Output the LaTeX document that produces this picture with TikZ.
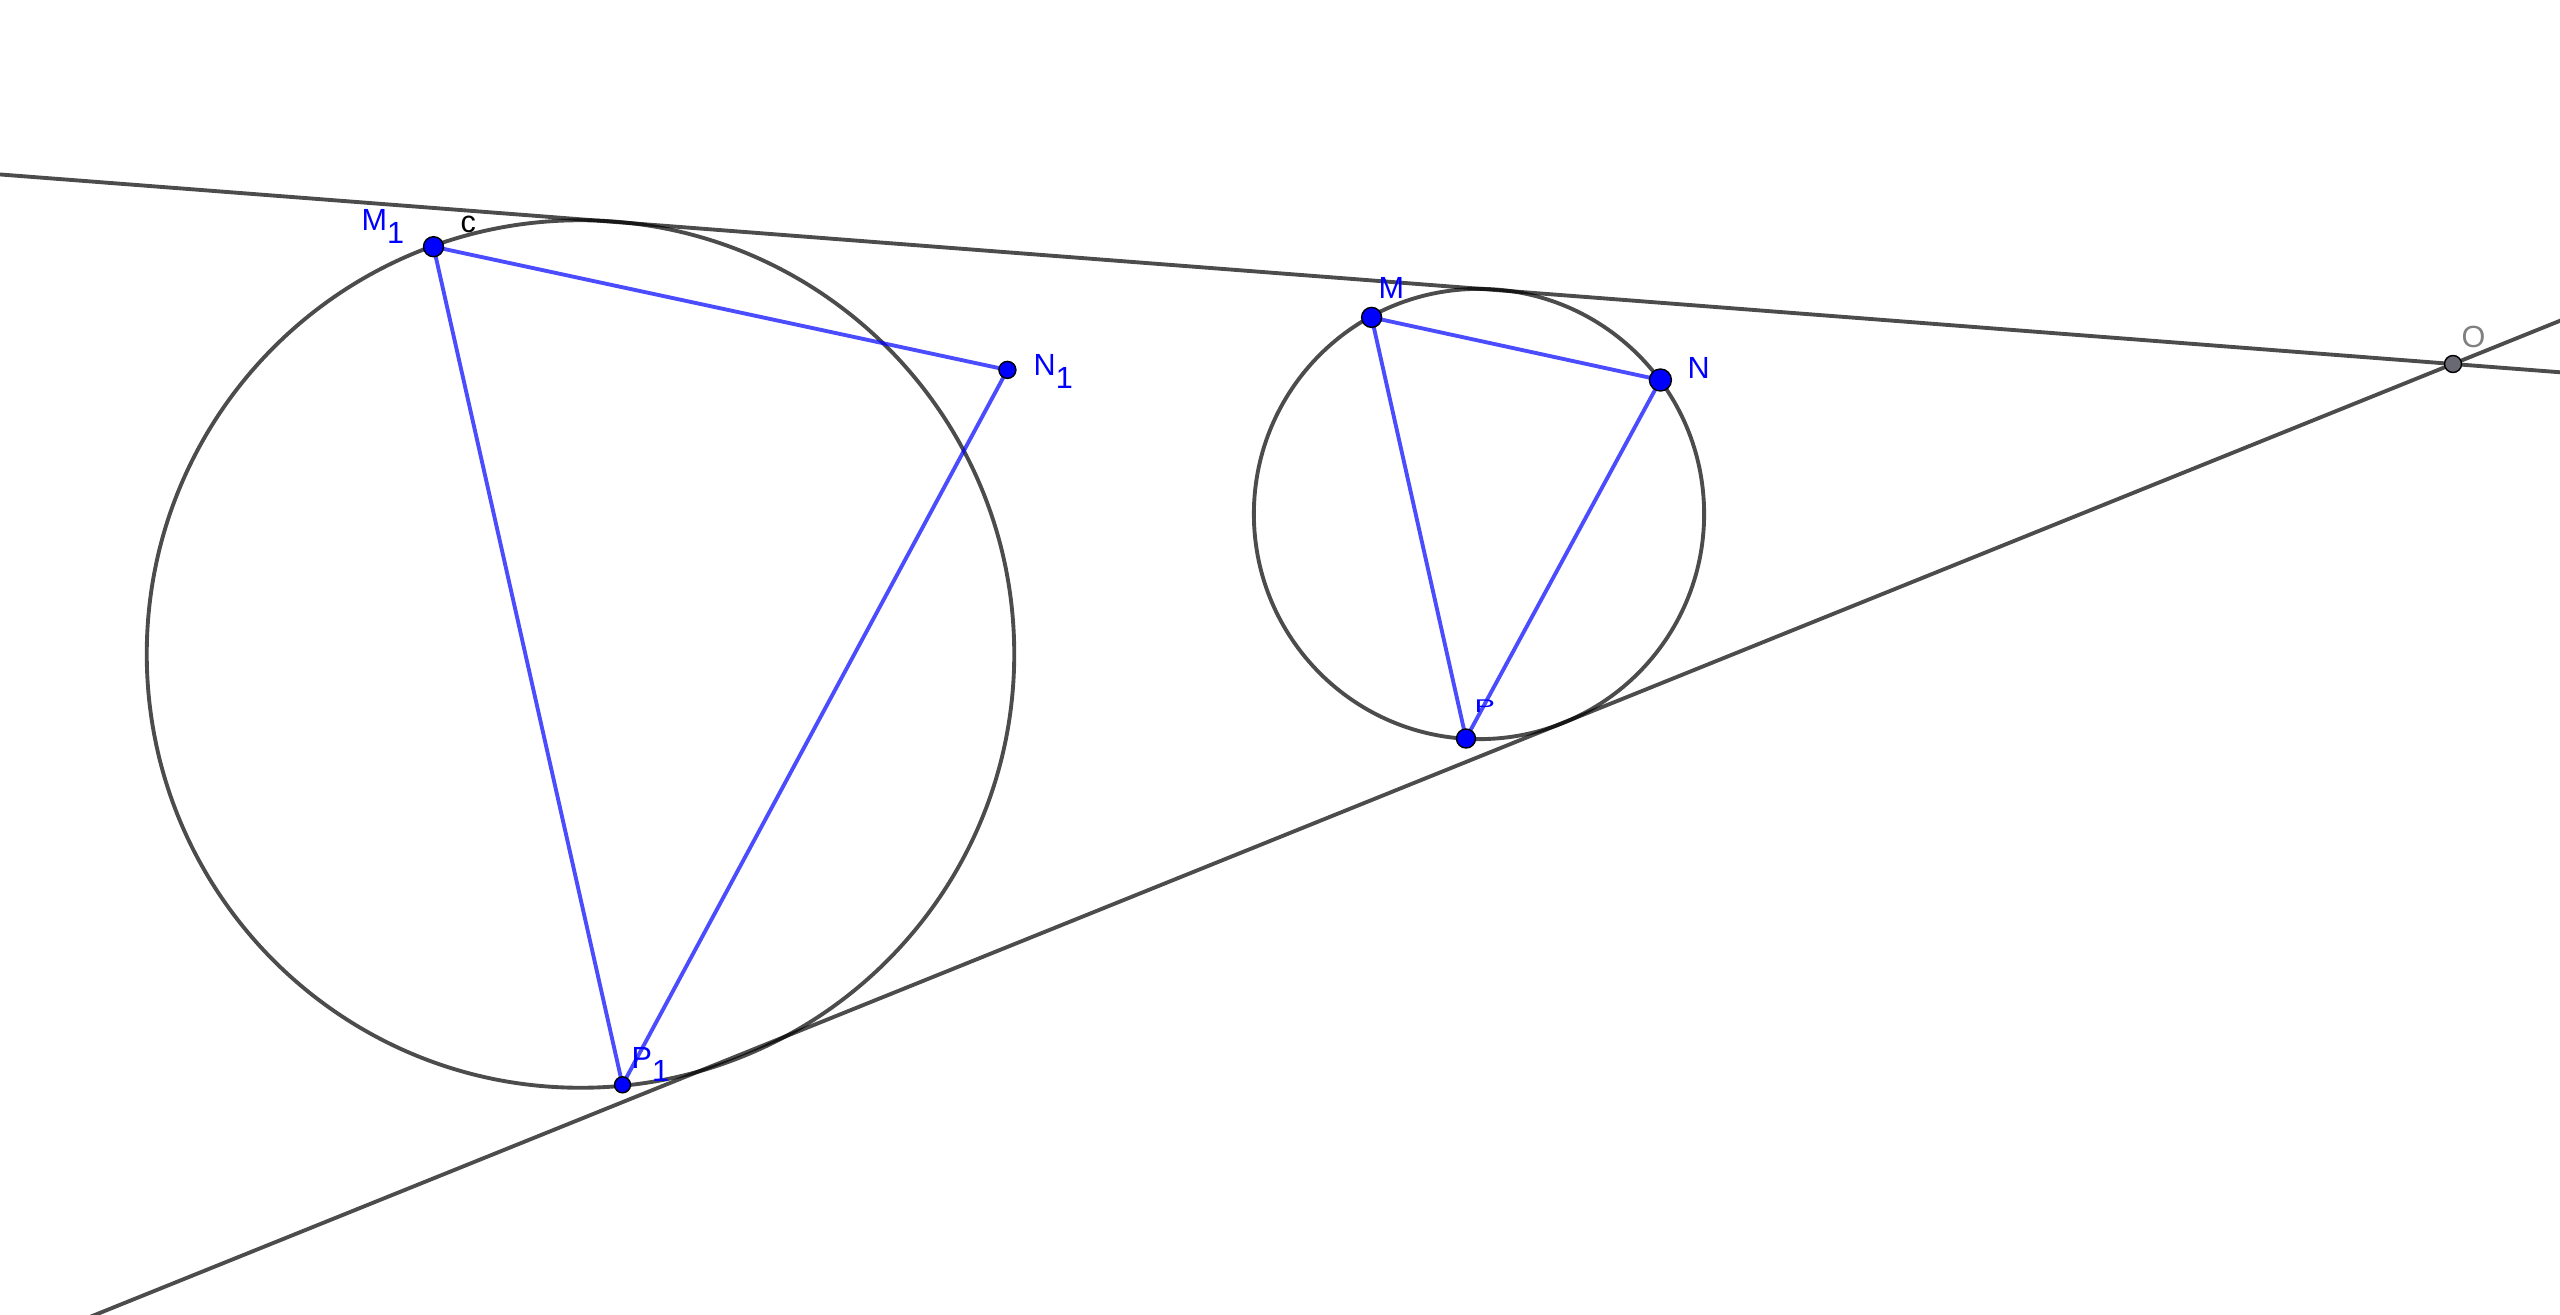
\documentclass[tikz,border=0pt]{standalone}
\usepackage{fontspec}
\setmainfont{Liberation Sans}
\usepackage{graphicx}
\definecolor{ptblue}{RGB}{0,0,255}
\definecolor{ogray}{RGB}{105,105,115}
\definecolor{lblgray}{RGB}{128,128,128}
\newcommand\mysub[1]{\raisebox{-3.8pt}{#1}}
\tikzset{
  geoline/.style={draw=black, draw opacity=0.7, line width=1.1pt},
  seg/.style={draw=blue, draw opacity=0.7, line width=1.1pt},
  bluept/.style={circle, fill=ptblue, draw=black, line width=0.4pt, inner sep=0pt, minimum size=#1},
  bluept/.default=0.2cm,
  graypt/.style={circle, fill=ogray, draw=black, line width=0.4pt, inner sep=0pt, minimum size=#1},
  graypt/.default=0.17cm,
  lbl/.style={font=\fontsize{8.7}{10}\selectfont, inner sep=0pt, anchor=base west, text=ptblue}
}
\begin{document}
\begin{tikzpicture}[x=0.01cm,y=-0.01cm]
\clip (0,0) rectangle (2560,1315);
% line end points
\coordinate (TL) at (-20,172.9);
\coordinate (TR) at (2580,373.8);
\coordinate (BL) at (57.5,1330);
\coordinate (BR) at (2580,312.7);
% circle centres
\coordinate (C1) at (580.5,654);
\coordinate (C2) at (1479,514);
% points
\coordinate (m1) at (433.5,246.7);
\coordinate (n1) at (1007.4,369.9);
\coordinate (p1) at (622.5,1084.8);
\coordinate (m) at (1371.6,317.4);
\coordinate (n) at (1660.4,380);
\coordinate (p) at (1466,738.5);
\coordinate (o) at (2453,364);
% circles
\draw[geoline] (C1) circle (4.335cm);
\draw[geoline] (C2) circle (2.25cm);
% lines
\draw[geoline] (TL) -- (TR);
\draw[geoline] (BL) -- (BR);
% segments
\draw[seg] (m1) -- (n1);
\draw[seg] (m1) -- (p1);
\draw[seg] (n1) -- (p1);
\draw[seg] (m) -- (n);
\draw[seg] (m) -- (p);
\draw[seg] (n) -- (p);
% point markers
\node[bluept=0.2cm] (M1) at (m1) {};
\node[bluept=0.17cm] (N1) at (n1) {};
\node[bluept=0.16cm] (P1) at (p1) {};
\node[bluept=0.2cm] (M) at (m) {};
\node[bluept=0.22cm] (N) at (n) {};
\node[bluept=0.19cm] (P) at (p) {};
\node[graypt=0.17cm] (O) at (o) {};
% labels
\node[lbl] (lM1) at (361,230) {M\mysub{1}};
\node[lbl, text=black] (lc) at (460,232) {c};
\node[lbl] (lM) at (1378,298) {M};
\node[lbl] (lN) at (1687,378) {N};
\node[lbl] (lN1) at (1033,375) {N\mysub{1}};
\node[lbl] (lP1) at (631,1068) {P\mysub{1}};
\node[lbl] (lP) at (1474,712) {\scalebox{1}[0.6]{P}};
\node[lbl, text=lblgray] (lO) at (2461,347) {O};
\end{tikzpicture}
\end{document}
